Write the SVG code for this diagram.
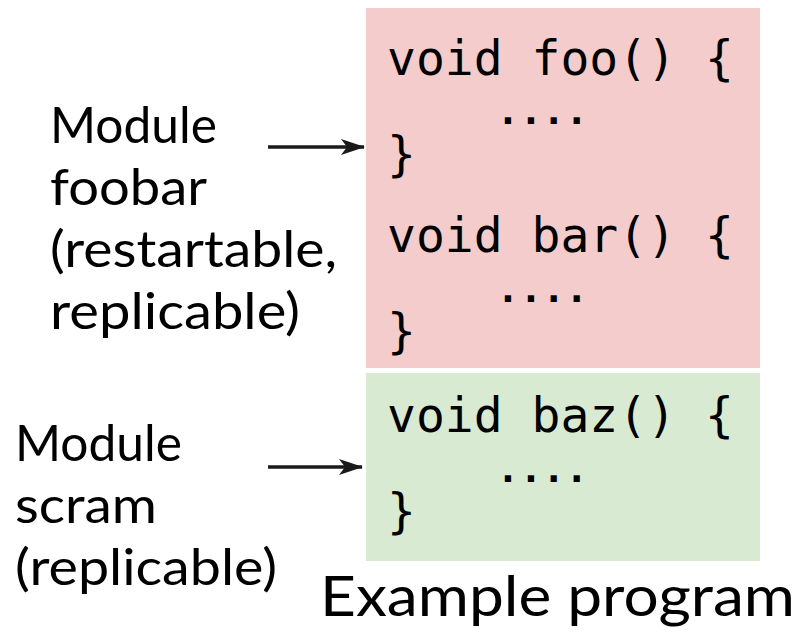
<svg xmlns="http://www.w3.org/2000/svg" width="800" height="635" viewBox="0 0 800 635">
<style>
.code{font-family:"DejaVu Sans Mono",monospace;font-size:48px;fill:#000;white-space:pre}
.dots{font-family:"DejaVu Sans Mono",monospace;font-size:38px;fill:#000;font-weight:bold}
.lbl{font-family:Lato,"Open Sans",sans-serif;font-size:50px;fill:#000}
</style>
<defs>
<marker id="ah" markerWidth="24" markerHeight="18" refX="23" refY="9" orient="auto" markerUnits="userSpaceOnUse">
<path d="M0,1 L24,9 L0,17 L6,9 Z" fill="#1a1a1a"/>
</marker>
</defs>
<rect width="800" height="635" fill="#fff"/>
<g id="foobar-block">
<rect x="366" y="8" width="394" height="360" fill="#f4cccc"/>
<text class="code" x="387" y="75">void foo() {</text>
<text class="dots" x="496.5" y="124">....</text>
<text class="code" x="387" y="171">}</text>
<text class="code" x="387" y="252">void bar() {</text>
<text class="dots" x="496.5" y="302">....</text>
<text class="code" x="387" y="348">}</text>
</g>
<g id="scram-block">
<rect x="366" y="373" width="394" height="188" fill="#d9ead3"/>
<text class="code" x="387" y="432">void baz() {</text>
<text class="dots" x="496.5" y="482">....</text>
<text class="code" x="387" y="528">}</text>
</g>
<g id="foobar-label">
<text class="lbl" x="50" y="143" textLength="167" lengthAdjust="spacingAndGlyphs">Module</text>
<text class="lbl" x="50" y="205" textLength="157" lengthAdjust="spacingAndGlyphs">foobar</text>
<text class="lbl" x="50" y="267" textLength="287" lengthAdjust="spacingAndGlyphs">(restartable,</text>
<text class="lbl" x="50" y="329" textLength="250" lengthAdjust="spacingAndGlyphs">replicable)</text>
</g>
<g id="scram-label">
<text class="lbl" x="15" y="461" textLength="167" lengthAdjust="spacingAndGlyphs">Module</text>
<text class="lbl" x="15" y="523" textLength="142" lengthAdjust="spacingAndGlyphs">scram</text>
<text class="lbl" x="15" y="585" textLength="262" lengthAdjust="spacingAndGlyphs">(replicable)</text>
</g>
<g id="caption">
<text class="lbl" x="320" y="616" style="font-size:57px" textLength="475" lengthAdjust="spacingAndGlyphs">Example program</text>
</g>
<g id="connectors" stroke="#1a1a1a" stroke-width="3.5" fill="none">
<line x1="268" y1="147" x2="364" y2="147" marker-end="url(#ah)"/>
<line x1="268" y1="467" x2="362" y2="467" marker-end="url(#ah)"/>
</g>
</svg>
